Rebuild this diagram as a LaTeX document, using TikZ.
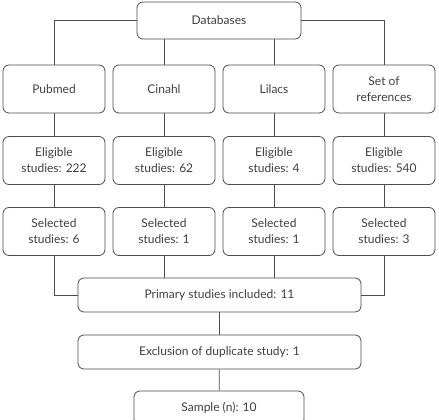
\documentclass[tikz,border=0pt]{standalone}
\usepackage{fontspec}
\setmainfont{Lato}
\usepackage{xcolor}
\usepackage{tikz}

\begin{document}
\begin{tikzpicture}[x=1pt,y=-1pt,
            every node/.style={draw=black!70,line width=0.8pt,rounded corners=6pt,
                text=black!75,align=center,font=\fontsize{12}{16}\selectfont},
            src/.style={minimum width=102pt,minimum height=48pt},
            wide/.style={minimum width=283pt,minimum height=34pt},
            link/.style={draw=black!70,line width=0.8pt}]
    \useasboundingbox (0,0) rectangle (439,420);
    \node[minimum width=164pt,minimum height=37pt] (db) at (219,20.5) {Databases};
    % databases
    \node[src] (pub) at (54,89) {Pubmed};
    \node[src] (cin) at (164,89) {Cinahl};
    \node[src] (lil) at (274,89) {Lilacs};
    \node[src] (ref) at (384,89) {Set of\\references};
    % eligible
    \node[src] (epub) at (54,160.5) {Eligible\\studies: 222};
    \node[src] (ecin) at (164,160.5) {Eligible\\studies: 62};
    \node[src] (elil) at (274,160.5) {Eligible\\studies: 4};
    \node[src] (eref) at (384,160.5) {Eligible\\studies: 540};
    % selected
    \node[src] (spub) at (54,231.5) {Selected\\studies: 6};
    \node[src] (scin) at (164,231.5) {Selected\\studies: 1};
    \node[src] (slil) at (274,231.5) {Selected\\studies: 1};
    \node[src] (sref) at (384,231.5) {Selected\\studies: 3};
    % merge
    \node[wide] (prim) at (219.5,295) {Primary studies included: 11};
    \node[wide] (excl) at (219.5,352) {Exclusion of duplicate study: 1};
    \node[minimum width=170pt,minimum height=34pt] (samp) at (219,408) {Sample (n): 10};

    \path[link] (db.west) -| (pub.north);
    \path[link] (db.east) -| (ref.north);
    \path[link] (db.south -| cin) -- (cin.north);
    \path[link] (db.south -| lil) -- (lil.north);
    \foreach \a/\b/\c in {pub/epub/spub,cin/ecin/scin,lil/elil/slil,ref/eref/sref} {
        \path[link] (\a) -- (\b);
        \path[link] (\b) -- (\c);
    }
    \path[link] (spub.south) |- (prim.west);
    \path[link] (sref.south) |- (prim.east);
    \path[link] (scin.south) -- (scin.south |- prim.north);
    \path[link] (slil.south) -- (slil.south |- prim.north);
    \path[link] (prim) -- (excl);
    \path[link] (excl) -- (samp);
\end{tikzpicture}
\end{document}
